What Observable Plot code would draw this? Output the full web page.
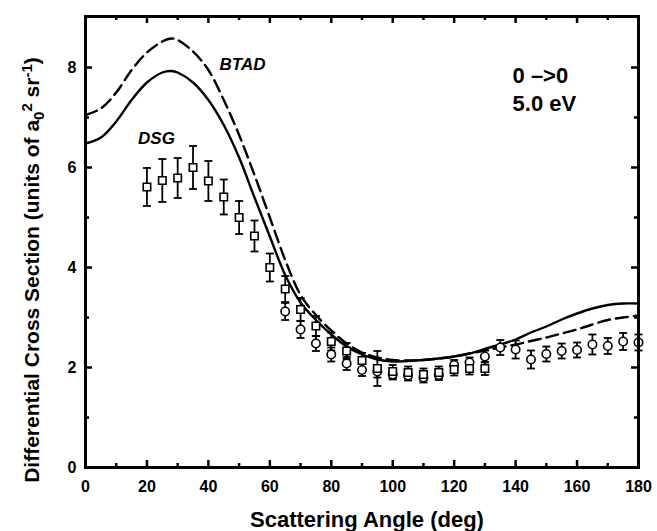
<!DOCTYPE html>
<html><head><meta charset="utf-8">
<script src="https://cdn.jsdelivr.net/npm/d3@7"></script>
<script src="https://cdn.jsdelivr.net/npm/@observablehq/plot@0.6"></script>
<style>body{margin:0;background:#fff}</style>
</head><body><div id="chart"></div>
<script>
// Theory curves (DSG solid, BTAD dashed)
const angles = [0,5,10,15,20,25,28,30,35,40,45,50,55,60,65,70,75,80,85,90,95,100,105,110,115,120,125,130,135,140,145,150,155,160,165,170,175,180];
const dsg  = [6.48,6.60,6.92,7.35,7.70,7.90,7.93,7.90,7.70,7.35,6.85,6.20,5.40,4.62,3.85,3.30,2.95,2.66,2.42,2.26,2.16,2.12,2.13,2.15,2.18,2.22,2.28,2.37,2.46,2.56,2.70,2.82,2.96,3.08,3.18,3.25,3.28,3.28];
const btad = [7.05,7.18,7.50,7.95,8.30,8.52,8.58,8.55,8.32,7.95,7.35,6.65,5.85,5.00,4.15,3.45,3.05,2.74,2.48,2.30,2.20,2.15,2.14,2.15,2.18,2.22,2.28,2.34,2.40,2.46,2.53,2.60,2.68,2.76,2.86,2.95,3.00,3.04];

// Experiment, squares
const sqAngles = [20,25,30,35,40,45,50,55,60,65,70,75,80,85,90,95,100,105,110,115,120,125,130];
const sqValues = [5.61,5.74,5.79,6.00,5.73,5.41,5.00,4.63,4.00,3.57,3.16,2.83,2.52,2.33,2.14,1.98,1.92,1.90,1.86,1.90,1.96,1.98,1.98];
const sqErrors = [0.38,0.43,0.40,0.43,0.40,0.35,0.33,0.31,0.28,0.26,0.23,0.20,0.18,0.16,0.15,0.35,0.13,0.12,0.12,0.12,0.12,0.12,0.13];

// Experiment, circles
const ciAngles = [65,70,75,80,85,90,95,100,105,110,115,120,125,130,135,140,145,150,155,160,165,170,175,180];
const ciValues = [3.12,2.76,2.48,2.26,2.08,1.95,1.92,1.86,1.84,1.80,1.85,2.05,2.10,2.22,2.40,2.36,2.16,2.27,2.33,2.35,2.46,2.43,2.52,2.50];
const ciErrors = [0.17,0.17,0.15,0.14,0.13,0.12,0.12,0.10,0.10,0.10,0.10,0.10,0.10,0.12,0.15,0.18,0.18,0.15,0.15,0.15,0.20,0.16,0.17,0.16];

// Ticks
const xMajor = [0,20,40,60,80,100,120,140,160,180];
const xMinor = [10,30,50,70,90,110,130,150,170];
const yMajor = [0,2,4,6,8];
const yMinor = [1,3,5,7];

// Annotations
const annoText = ["BTAD","DSG"];
const annoX = [51.1,23.1];
const annoY = [8.06,6.58];
const boxText = ["0 \u2013>0","5.0 eV"];
const boxX = [139,139];
const boxY = [7.84,7.28];

const curves = angles.map((a,i)=>({a, dsg: dsg[i], btad: btad[i]}));
const squares = sqAngles.map((a,i)=>({a, v: sqValues[i], e: sqErrors[i]}));
const circles = ciAngles.map((a,i)=>({a, v: ciValues[i], e: ciErrors[i]}));

const W = 657, H = 531, ML = 85, MR = 19, MT = 16, MB = 64;
const innerW = W - ML - MR, innerH = H - MT - MB;
const font = "'Liberation Sans', Arial, Helvetica, sans-serif";
const cap = {draw(ctx,size){const w=Math.sqrt(size/Math.PI); ctx.moveTo(-w,0); ctx.lineTo(w,0);}};

function errBars(data){
  return [
    Plot.ruleX(data, {x:"a", y1:d=>d.v-d.e, y2:d=>d.v+d.e, stroke:"black", strokeWidth:1.8}),
    Plot.dot(data, {x:"a", y:d=>d.v-d.e, symbol:cap, r:4, fill:"none", stroke:"black", strokeWidth:1.8}),
    Plot.dot(data, {x:"a", y:d=>d.v+d.e, symbol:cap, r:4, fill:"none", stroke:"black", strokeWidth:1.8})
  ];
}
function xTicks(vals, len){
  return [
    Plot.tickX(vals, {x:d=>d, insetTop: innerH - len, stroke:"black", strokeWidth:2.5}),
    Plot.tickX(vals, {x:d=>d, insetBottom: innerH - len, stroke:"black", strokeWidth:2.5})
  ];
}
function yTicks(vals, len){
  return [
    Plot.tickY(vals, {y:d=>d, insetRight: innerW - len, stroke:"black", strokeWidth:2.5}),
    Plot.tickY(vals, {y:d=>d, insetLeft: innerW - len, stroke:"black", strokeWidth:2.5})
  ];
}

const svg = Plot.plot({
  width: W, height: H,
  marginLeft: ML, marginRight: MR, marginTop: MT, marginBottom: MB,
  style: {fontFamily: font, background: "white"},
  x: {domain: [0,180]},
  y: {domain: [0,9.02]},
  marks: [
    Plot.line(curves, {x:"a", y:"btad", curve:"catmull-rom", stroke:"black", strokeWidth:2.4, strokeDasharray:"12,6"}),
    Plot.line(curves, {x:"a", y:"dsg", curve:"catmull-rom", stroke:"black", strokeWidth:2.4}),
    ...errBars(circles),
    ...errBars(squares),
    Plot.dot(circles, {x:"a", y:"v", symbol:"circle", r:4.2, fill:"white", stroke:"black", strokeWidth:1.6}),
    Plot.dot(squares, {x:"a", y:"v", symbol:"square", r:4.2, fill:"white", stroke:"black", strokeWidth:1.6}),
    ...xTicks(xMajor, 7), ...xTicks(xMinor, 4),
    ...yTicks(yMajor, 7), ...yTicks(yMinor, 4),
    Plot.axisX(xMajor, {anchor:"bottom", tickSize:0, tickPadding:13, fontSize:16, fontWeight:"bold", label:null, tickFormat:"d"}),
    Plot.axisY(yMajor, {anchor:"left", tickSize:0, tickPadding:9, fontSize:16, fontWeight:"bold", label:null, tickFormat:"d"}),
    Plot.frame({stroke:"black", strokeWidth:3}),
    Plot.text(annoText, {x:(d,i)=>annoX[i], y:(d,i)=>annoY[i], text:d=>d, fontSize:17, fontWeight:"bold", fontStyle:"italic", fill:"black"}),
    Plot.text(boxText, {x:(d,i)=>boxX[i], y:(d,i)=>boxY[i], text:d=>d, textAnchor:"start", fontSize:22, fontWeight:"bold", fill:"black"})
  ]
});

const s = d3.select(svg);
s.append("text")
  .attr("x", 367).attr("y", 527)
  .attr("text-anchor","middle")
  .style("font-family", font).style("font-size","22px").style("font-weight","bold")
  .attr("fill","black")
  .text("Scattering Angle (deg)");

const yl = s.append("text")
  .attr("transform","translate(39,270) rotate(-90)")
  .attr("text-anchor","middle")
  .style("font-family", font).style("font-size","21px").style("font-weight","bold")
  .attr("fill","black");
yl.append("tspan").text("Differential Cross Section (units of a");
yl.append("tspan").attr("dy",5).style("font-size","15px").text("0");
yl.append("tspan").attr("dy",-12).style("font-size","15px").text("2");
yl.append("tspan").attr("dy",7).text(" sr");
yl.append("tspan").attr("dy",-7).style("font-size","15px").text("-1");
yl.append("tspan").attr("dy",7).text(")");

document.getElementById("chart").appendChild(svg);
</script>
</body></html>
